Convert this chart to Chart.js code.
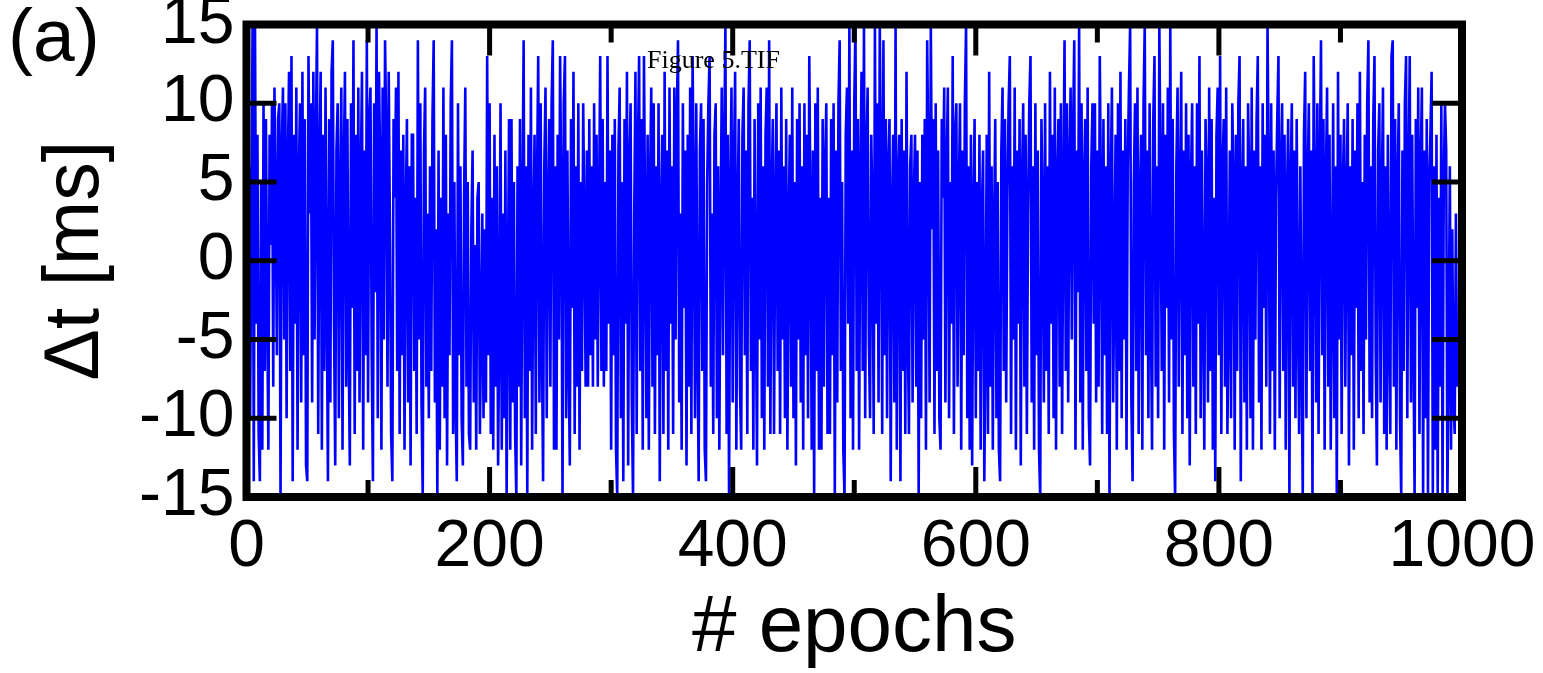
<!DOCTYPE html>
<html>
<head>
<meta charset="utf-8">
<script src="https://cdn.jsdelivr.net/npm/chart.js@4.4.1/dist/chart.umd.min.js"></script>
<style>
  html, body { margin: 0; padding: 0; background: #fff; }
  #wrap { position: relative; width: 1543px; height: 673px; }
  canvas { display: block; }
</style>
</head>
<body>
<div id="wrap"><canvas id="chart" width="1543" height="673"></canvas></div>
<script>
// delta t per epoch [ms] in rows of 25 epochs
const dtValues = [
  9,-6,6,-10,3,15,-14,15,-4,8,-11,-14,5,-12,10,-7,9,-3,-12,8,1,10,-8,11,4,
  -6,9,10,-15,7,11,-5,10,-10,6,12,-7,13,-14,8,-4,11,-12,5,10,-9,12,-6,9,-13,
  -14,13,3,10,-9,12,-5,7,15,-11,6,12,-12,8,-7,11,-2,-14,9,-9,12,14,-4,-13,7,
  10,-10,4,11,-12,6,12,-8,9,-5,-13,10,-3,14,-11,8,-7,11,-9,5,12,-12,7,-6,14,
  -9,9,11,-6,-14,10,-2,15,-10,12,6,-12,11,-5,14,8,-8,12,2,-11,-14,9,4,11,-7,
  12,-11,7,-6,8,-12,3,9,-9,6,-13,8,8,-7,4,-11,14,-5,10,-9,-15,7,11,-8,3,
  -10,6,-7,9,14,-9,2,-15,7,-12,4,-8,11,-10,8,-13,3,-6,10,14,-11,5,-9,-14,10,
  -6,6,-10,-13,4,11,-8,5,-11,-12,2,7,-9,1,-12,4,5,-11,-5,3,-10,2,-9,13,-6,
  10,-11,4,-12,8,-8,6,-13,-4,10,-12,3,-10,7,-15,-2,9,-12,9,-9,5,-11,-15,6,-8,
  9,-13,3,14,-10,6,-15,8,-7,11,-12,2,8,-11,5,13,-9,10,-5,-14,6,11,-10,3,9,
  -8,10,14,-12,6,-12,8,-5,13,4,-15,10,13,-10,7,-6,-13,9,-3,12,-11,6,-8,10,-12,
  5,-7,10,2,-8,7,-8,9,-6,6,-8,10,-5,8,-8,3,13,-7,9,-8,5,-7,13,-4,7,
  -12,8,-6,9,-12,-15,7,11,-10,5,-14,9,-4,12,-13,6,10,-9,-15,3,12,-11,7,13,-7,
  9,-12,13,2,-10,8,-12,5,11,-8,10,-11,6,-6,10,-14,3,8,-11,12,-7,7,-12,11,-4,
  6,-11,11,-5,9,14,-9,3,-12,10,-3,7,-13,8,-8,11,-11,13,4,-10,10,-5,-14,7,10,
  -7,9,-12,-14,5,10,13,-8,3,-11,8,10,-10,6,-12,2,11,-6,7,15,-11,8,-15,4,11,
  -9,6,12,-12,3,9,-8,-12,8,11,-6,7,-11,10,14,-7,4,-12,9,-2,-13,10,-5,11,-10,
  6,-12,8,11,-8,14,-11,4,9,-11,3,10,-7,7,-11,11,-5,6,-10,9,-12,2,8,-8,11,
  -10,5,-13,9,-5,10,-9,6,-12,10,-6,8,-10,13,3,-12,7,-15,10,-7,11,-12,4,-12,9,
  -8,6,10,-11,4,-11,9,-6,10,-15,7,-9,10,14,-7,5,-12,-15,8,11,-4,15,-10,7,-12,
  10,15,-7,9,-12,5,12,-7,15,-10,7,11,-5,-10,8,3,-11,15,-4,10,-9,15,6,-11,14,
  -6,9,-10,6,9,-14,3,8,-9,15,-12,5,8,-14,9,-7,7,-11,12,-4,-11,6,8,-9,4,
  8,-8,7,-15,5,-10,8,-5,9,-12,14,6,-9,15,2,9,-11,10,-7,7,-10,-12,9,4,11,
  -9,6,11,-10,5,-4,13,-11,8,10,-8,4,10,-12,7,-6,10,15,-10,6,-12,8,-13,3,9,
  -10,5,-7,8,-12,3,7,-14,-5,8,-11,12,-8,6,-12,2,9,-10,5,-12,-14,7,11,-7,9,
  -9,4,10,13,-11,6,-5,11,-12,7,-4,9,-13,5,10,-8,8,-11,3,10,13,-9,6,-12,10,
  -6,7,-12,-15,9,3,-9,10,-7,6,-11,12,-4,8,-10,11,-12,5,9,-8,10,-11,4,14,-7,
  10,-9,6,11,-5,8,14,-12,7,-2,15,-9,10,-12,5,9,-7,11,-10,-13,6,10,-4,10,-9,
  7,-8,13,4,-11,9,-6,6,-11,10,-15,5,11,-9,-1,8,-12,10,-7,12,-10,7,-5,9,-12,
  6,11,15,-9,-14,5,10,-7,11,-11,4,8,-12,10,15,-6,7,-10,10,-3,-12,9,13,-8,6,
  -10,15,5,-7,10,-12,8,-3,11,-9,15,-5,9,-11,-15,6,11,-8,4,12,-11,7,-6,10,-10,
  8,-13,5,10,-8,6,-11,10,-4,13,-10,7,-3,-12,9,5,-9,11,-7,9,-12,4,-14,8,11,
  -6,13,-11,6,9,-8,11,-11,-3,7,-10,10,5,-12,8,-7,10,13,-14,4,9,-9,6,-12,10,
  5,-10,11,-12,7,-5,9,13,-9,6,-12,10,-3,8,-8,15,5,-11,10,-7,7,-12,4,9,13,
  -10,6,10,-7,8,-12,4,9,-15,5,10,-8,7,-10,9,-3,-11,6,-6,-15,8,12,-10,5,10,
  -7,7,-15,13,4,-9,10,-11,6,14,-6,9,-12,5,11,-8,8,-12,-2,10,-10,6,-15,12,-5,
  8,-11,5,9,-8,4,10,-13,6,-6,9,-12,7,-3,10,-10,12,-7,5,-11,8,-5,10,14,-9,
  6,-10,9,13,-6,-13,7,10,-9,4,11,-11,6,-12,8,-4,-11,13,14,-8,9,-12,5,10,-10,
  -15,7,-7,10,13,-10,5,13,-9,8,-5,-15,9,-3,11,-11,6,11,-15,7,-10,9,-15,5,8,
  12,-15,6,-12,8,-15,4,-8,10,-15,5,10,7,-15,-6,6,-12,2,-9,-11,3,-8,-4,-10,3
];
const epochs = dtValues.map((v, i) => i);

const xTickValues = [0, 200, 400, 600, 800, 1000];
const xMinorTicks = [100, 300, 500, 700, 900];
const yTickValues = [-15, -10, -5, 0, 5, 10, 15];

const SANS = '"Liberation Sans", Arial, Helvetica, sans-serif';

// thick frame, inward ticks, panel letter and the stray file label
const framePlugin = {
  id: 'frame',
  afterDatasetsDraw(chart) {
    const { ctx, chartArea: a, scales: { x, y } } = chart;
    ctx.save();
    ctx.strokeStyle = '#000';
    ctx.lineCap = 'butt';

    ctx.lineWidth = 5;
    ctx.beginPath();
    yTickValues.slice(1, -1).forEach(v => {
      const py = y.getPixelForValue(v);
      ctx.moveTo(a.left, py); ctx.lineTo(a.left + 30, py);
      ctx.moveTo(a.right, py); ctx.lineTo(a.right - 30, py);
    });
    xTickValues.slice(1, -1).forEach(v => {
      const px = x.getPixelForValue(v);
      ctx.moveTo(px, a.bottom); ctx.lineTo(px, a.bottom - 30);
      ctx.moveTo(px, a.top); ctx.lineTo(px, a.top + 31);
    });
    xMinorTicks.forEach(v => {
      const px = x.getPixelForValue(v);
      ctx.moveTo(px, a.bottom); ctx.lineTo(px, a.bottom - 17);
      ctx.moveTo(px, a.top); ctx.lineTo(px, a.top + 18);
    });
    ctx.stroke();

    ctx.lineWidth = 8;
    ctx.strokeRect(a.left, a.top, a.right - a.left, a.bottom - a.top);

    ctx.fillStyle = '#000';
    ctx.textAlign = 'left';
    ctx.textBaseline = 'alphabetic';
    ctx.font = '75px ' + SANS;
    ctx.fillText('(a)', 8, 61);
    ctx.font = '26px "Liberation Serif", "Times New Roman", serif';
    ctx.fillText('Figure 5.TIF', 647, 68);
    ctx.restore();
  }
};

new Chart(document.getElementById('chart'), {
  type: 'line',
  data: {
    datasets: [{
      data: epochs.map((e, i) => ({ x: e, y: dtValues[i] })),
      borderColor: '#0000ff',
      borderWidth: 2.6,
      pointRadius: 0,
      tension: 0,
      fill: false
    }]
  },
  options: {
    responsive: false,
    animation: false,
    events: [],
    layout: { padding: { top: 24.5, right: 81, bottom: 0, left: 0 } },
    plugins: { legend: { display: false }, tooltip: { enabled: false } },
    scales: {
      x: {
        type: 'linear',
        min: 0,
        max: 1000,
        grid: { display: false, drawTicks: false },
        border: { display: false },
        afterBuildTicks: s => { s.ticks = xTickValues.map(v => ({ value: v })); },
        ticks: {
          autoSkip: false,
          maxRotation: 0,
          padding: 18,
          color: '#000',
          font: { family: SANS, size: 66, lineHeight: 1 },
          callback: v => String(v)
        },
        title: {
          display: true,
          text: '# epochs',
          color: '#000',
          font: { family: SANS, size: 80, lineHeight: 1 },
          padding: { top: 0, bottom: 4 }
        },
        afterFit: s => {
          s.height = 176;
          s.paddingLeft = 0; s.paddingRight = 0;
        }
      },
      y: {
        min: -15,
        max: 15,
        grid: { display: false, drawTicks: false },
        border: { display: false },
        afterBuildTicks: s => { s.ticks = yTickValues.map(v => ({ value: v })); },
        ticks: {
          autoSkip: false,
          padding: 12,
          color: '#000',
          font: { family: SANS, size: 66, lineHeight: 1 },
          callback: v => String(v)
        },
        title: {
          display: true,
          text: 'Δt [ms]',
          color: '#000',
          font: { family: SANS, size: 77, lineHeight: 1 },
          padding: { top: 38, bottom: 0 }
        },
        afterFit: s => {
          s.width = 246.5;
          s.paddingTop = 0; s.paddingBottom = 0;
        }
      }
    }
  },
  plugins: [framePlugin]
});
</script>
</body>
</html>
